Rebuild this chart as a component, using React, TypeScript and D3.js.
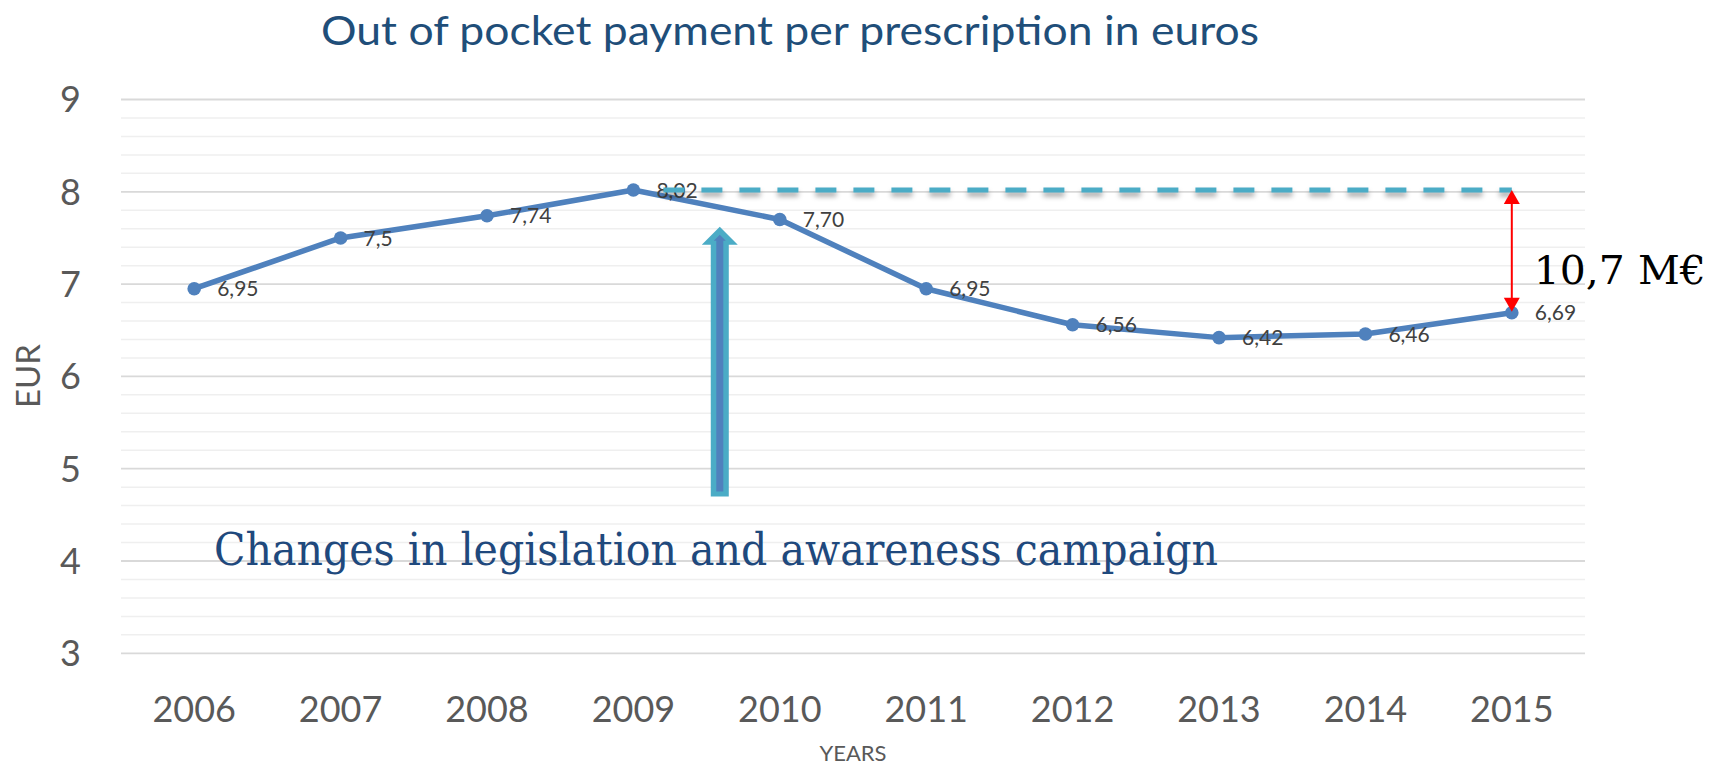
import React, { useEffect, useRef } from 'react';
import * as d3 from 'd3';

// out of pocket payment per prescription, EUR
const years = ['2006', '2007', '2008', '2009', '2010', '2011', '2012', '2013', '2014', '2015'];
const payments = [6.95, 7.5, 7.74, 8.02, 7.7, 6.95, 6.56, 6.42, 6.46, 6.69];
const valueLabels = ['6,95', '7,5', '7,74', '8,02', '7,70', '6,95', '6,56', '6,42', '6,46', '6,69'];
const yTicks = [3, 4, 5, 6, 7, 8, 9];
const savingLabel = '10,7 M€';
const campaignLabel = 'Changes in legislation and awareness campaign';

const W = 1721;
const H = 767;
const SANS = 'Lato, "Open Sans", sans-serif';
const SERIF = '"DejaVu Serif", "Liberation Serif", serif';

const App = () => {
  const ref = useRef<SVGSVGElement | null>(null);

  useEffect(() => {
    const svg = d3.select(ref.current);
    svg.selectAll('*').remove();

    const x = d3.scalePoint<string>().domain(years).range([121, 1585]).padding(0.5);
    const y = d3.scaleLinear().domain([3, 9]).range([653.3, 99.5]);

    // shadow under the dashed reference (user space, a flat line has no bbox height)
    const defs = svg.append('defs');
    const shadow = defs.append('filter').attr('id', 'dashShadow')
      .attr('filterUnits', 'userSpaceOnUse')
      .attr('x', 0).attr('y', 0).attr('width', W).attr('height', H);
    shadow.append('feDropShadow').attr('dx', 0).attr('dy', 4).attr('stdDeviation', 2.5)
      .attr('flood-color', '#000').attr('flood-opacity', 0.35);

    // gridlines: minor every 0.2, major every 1
    const minor = d3.range(3, 9.001, 0.2).filter(v => Math.abs(v - Math.round(v)) > 0.01);
    svg.append('g').selectAll('line').data(minor).enter().append('line')
      .attr('x1', 121).attr('x2', 1585)
      .attr('y1', d => y(d)).attr('y2', d => y(d))
      .attr('stroke', '#efefef').attr('stroke-width', 1.5);
    svg.append('g').selectAll('line').data(yTicks).enter().append('line')
      .attr('x1', 121).attr('x2', 1585)
      .attr('y1', d => y(d)).attr('y2', d => y(d))
      .attr('stroke', '#d9d9d9').attr('stroke-width', 1.8);

    // y tick labels
    svg.append('g').selectAll('text').data(yTicks).enter().append('text')
      .attr('x', 81).attr('y', d => y(d)).attr('dy', '0.36em')
      .attr('text-anchor', 'end')
      .style('font-family', SANS).style('font-size', '36px').style('fill', '#595959')
      .text(d => d);

    // x tick labels
    svg.append('g').selectAll('text').data(years).enter().append('text')
      .attr('x', d => x(d)!).attr('y', 722)
      .attr('text-anchor', 'middle')
      .style('font-family', SANS).style('font-size', '36px').style('fill', '#595959')
      .text(d => d);

    // axis titles
    svg.append('text')
      .attr('transform', `translate(40,${376}) rotate(-90)`)
      .attr('text-anchor', 'middle')
      .style('font-family', SANS).style('font-size', '33px').style('fill', '#595959')
      .text('EUR');
    svg.append('text')
      .attr('x', 853).attr('y', 761)
      .attr('text-anchor', 'middle')
      .style('font-family', SANS).style('font-size', '22px').style('fill', '#595959')
      .text('YEARS');

    // chart title
    svg.append('text')
      .attr('x', 790).attr('y', 45)
      .attr('text-anchor', 'middle')
      .attr('textLength', 938).attr('lengthAdjust', 'spacingAndGlyphs')
      .style('font-family', SANS).style('font-size', '41px').style('fill', '#1F4E79')
      .text('Out of pocket payment per prescription in euros');

    // data line + markers
    const pts = years.map((yr, i) => ({ yr, v: payments[i], lab: valueLabels[i] }));
    const line = d3.line<{ yr: string; v: number }>().x(d => x(d.yr)!).y(d => y(d.v));
    svg.append('path').datum(pts)
      .attr('d', line)
      .attr('fill', 'none').attr('stroke', '#4F81BD').attr('stroke-width', 5.5)
      .attr('stroke-linejoin', 'round');
    svg.append('g').selectAll('circle').data(pts).enter().append('circle')
      .attr('cx', d => x(d.yr)!).attr('cy', d => y(d.v)).attr('r', 6.8)
      .attr('fill', '#4F81BD');

    svg.append('g').selectAll('text').data(pts).enter().append('text')
      .attr('x', d => x(d.yr)! + 23).attr('y', d => y(d.v)).attr('dy', '0.36em')
      .style('font-family', SANS).style('font-size', '21px').style('fill', '#404040')
      .text(d => d.lab);

    // dashed reference at the 2009 peak
    const peak = payments[3];
    svg.append('line')
      .attr('x1', x('2009')! + 30).attr('x2', x('2015')!)
      .attr('y1', y(peak)).attr('y2', y(peak))
      .attr('stroke', '#4BACC6').attr('stroke-width', 5)
      .attr('stroke-dasharray', '21,17')
      .attr('filter', 'url(#dashShadow)');

    // red double arrow: drop from peak to 2015
    const ax = x('2015')!;
    const top = y(peak);
    const bot = y(payments[9]) - 1;
    svg.append('line')
      .attr('x1', ax).attr('x2', ax).attr('y1', top + 10).attr('y2', bot - 10)
      .attr('stroke', '#FF0000').attr('stroke-width', 2);
    svg.append('path')
      .attr('d', `M${ax},${top} L${ax - 8},${top + 14} L${ax + 8},${top + 14} Z`)
      .attr('fill', '#FF0000');
    svg.append('path')
      .attr('d', `M${ax},${bot} L${ax - 8},${bot - 14} L${ax + 8},${bot - 14} Z`)
      .attr('fill', '#FF0000');

    svg.append('text')
      .attr('x', ax + 22).attr('y', 284)
      .attr('textLength', 172).attr('lengthAdjust', 'spacingAndGlyphs')
      .style('font-family', SERIF).style('font-size', '40px').style('fill', '#000')
      .text(savingLabel);

    // campaign arrow between 2009 and 2010
    const step = x.step();
    const bx = x('2009')! + 0.59 * step;
    const bTop = y(7.62);
    const bBot = y(4.7);
    svg.append('path')
      .attr('d', `M${bx},${bTop} L${bx + 18},${bTop + 18} L${bx + 9},${bTop + 18} L${bx + 9},${bBot} ` +
        `L${bx - 9},${bBot} L${bx - 9},${bTop + 18} L${bx - 18},${bTop + 18} Z`)
      .attr('fill', '#4BACC6');
    svg.append('path')
      .attr('d', `M${bx},${bTop + 8} L${bx + 6},${bTop + 14} L${bx + 3.5},${bTop + 14} L${bx + 3.5},${bBot - 5} ` +
        `L${bx - 3.5},${bBot - 5} L${bx - 3.5},${bTop + 14} L${bx - 6},${bTop + 14} Z`)
      .attr('fill', '#4F81BD');

    svg.append('text')
      .attr('x', 214).attr('y', 565)
      .attr('textLength', 1004).attr('lengthAdjust', 'spacingAndGlyphs')
      .style('font-family', SERIF).style('font-size', '44px').style('fill', '#1F497D')
      .text(campaignLabel);
  }, []);

  return (
    <svg ref={ref} width={W} height={H}
      style={{ position: 'absolute', left: 0, top: 0, background: '#fff' }} />
  );
};

export default App;
